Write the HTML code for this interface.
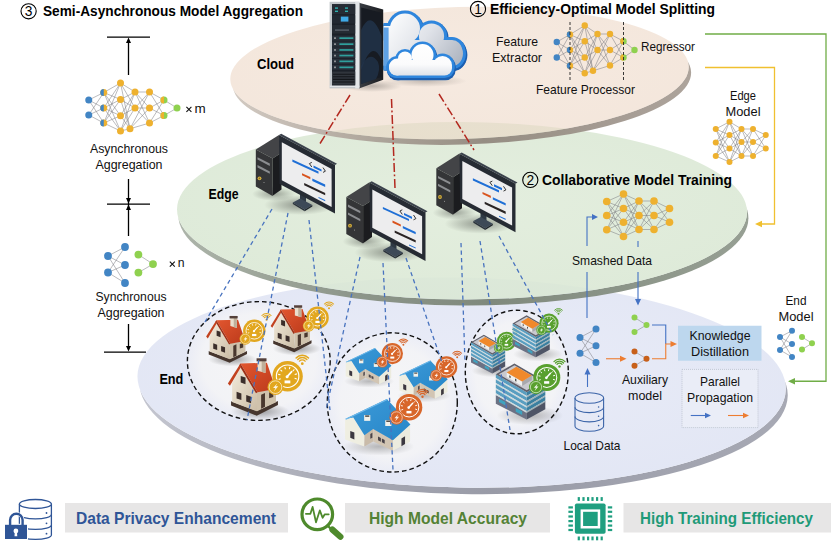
<!DOCTYPE html>
<html><head><meta charset="utf-8"><title>Framework</title>
<style>html,body{margin:0;padding:0;background:#fff;}svg{display:block;}text{font-family:"Liberation Sans", sans-serif;}</style></head><body>
<svg width="836" height="544" viewBox="0 0 836 544">
<defs>
<radialGradient id="gCloud" cx="50%" cy="45%" r="60%"><stop offset="0" stop-color="#f0dccc"/><stop offset="1" stop-color="#ecd6c4"/></radialGradient>
<radialGradient id="gEdge" cx="50%" cy="45%" r="60%"><stop offset="0" stop-color="#e0ecda"/><stop offset="1" stop-color="#d9e7d3"/></radialGradient>
<radialGradient id="gEnd" cx="50%" cy="45%" r="60%"><stop offset="0" stop-color="#e9ecf8"/><stop offset="1" stop-color="#e2e6f4"/></radialGradient>
<radialGradient id="gSpot" cx="50%" cy="50%" r="50%"><stop offset="0" stop-color="#f6f6f7" stop-opacity="0.95"/><stop offset="0.8" stop-color="#f4f4f6" stop-opacity="0.9"/><stop offset="1" stop-color="#f2f2f6" stop-opacity="0.45"/></radialGradient>
<radialGradient id="gShadow" cx="50%" cy="50%" r="50%"><stop offset="0" stop-color="#000" stop-opacity="0.45"/><stop offset="1" stop-color="#000" stop-opacity="0"/></radialGradient>
<filter id="blur2" x="-30%" y="-30%" width="160%" height="160%"><feGaussianBlur stdDeviation="2.5"/></filter>
<filter id="blur1" x="-30%" y="-30%" width="160%" height="160%"><feGaussianBlur stdDeviation="1.2"/></filter>
<linearGradient id="gWallF" x1="0" y1="0" x2="1" y2="1"><stop offset="0" stop-color="#f3ebdc"/><stop offset="1" stop-color="#cbbda6"/></linearGradient>
<linearGradient id="gRoofR" x1="0" y1="0" x2="1" y2="1"><stop offset="0" stop-color="#e2562f"/><stop offset="1" stop-color="#bb3a1b"/></linearGradient>
<linearGradient id="gRoofB" x1="0" y1="0" x2="1" y2="1"><stop offset="0" stop-color="#3d9ad8"/><stop offset="1" stop-color="#2686c8"/></linearGradient>
<linearGradient id="gSrvSide" x1="0" y1="0" x2="1" y2="0"><stop offset="0" stop-color="#3a3e44"/><stop offset="1" stop-color="#1a1c20"/></linearGradient>
<linearGradient id="gCloudIn" gradientUnits="userSpaceOnUse" x1="392" y1="18" x2="462" y2="68"><stop offset="0" stop-color="#fafbfc"/><stop offset="0.45" stop-color="#dfe2e8"/><stop offset="1" stop-color="#a9b0bc"/></linearGradient>
<linearGradient id="gCloudFr" gradientUnits="userSpaceOnUse" x1="0" y1="44" x2="0" y2="78"><stop offset="0" stop-color="#ffffff"/><stop offset="0.6" stop-color="#fbfbfc"/><stop offset="1" stop-color="#d9dde5"/></linearGradient>
<linearGradient id="sEdge" gradientUnits="userSpaceOnUse" x1="177" y1="0" x2="747" y2="0"><stop offset="0" stop-color="#aab2a7"/><stop offset="0.3" stop-color="#8a9387"/><stop offset="0.55" stop-color="#7b8578"/><stop offset="1" stop-color="#939c90"/></linearGradient>
<linearGradient id="sCloud" gradientUnits="userSpaceOnUse" x1="231" y1="0" x2="688" y2="0"><stop offset="0" stop-color="#cfc6bd"/><stop offset="0.3" stop-color="#aaa097"/><stop offset="0.55" stop-color="#8f857c"/><stop offset="1" stop-color="#a69c93"/></linearGradient>
<linearGradient id="sEnd" gradientUnits="userSpaceOnUse" x1="138" y1="0" x2="787" y2="0"><stop offset="0" stop-color="#c4c6d0"/><stop offset="0.3" stop-color="#a9abb6"/><stop offset="0.55" stop-color="#999ba7"/><stop offset="1" stop-color="#a7a9b4"/></linearGradient>
</defs>
<rect width="836" height="544" fill="#fff"/>
<mask id="mkEnd" maskUnits="userSpaceOnUse" x="0" y="0" width="836" height="544"><rect width="836" height="544" fill="#fff"/><ellipse cx="461.6" cy="382.6" rx="324.2" ry="105" transform="rotate(1.2 461.6 382.6)" fill="#000"/></mask>
<g mask="url(#mkEnd)"><ellipse cx="463.6" cy="389.0" rx="324.2" ry="105" transform="rotate(1.2 463.6 389.0)" fill="url(#sEnd)" opacity="1.0"/></g>
<ellipse cx="461.6" cy="382.6" rx="324.2" ry="105" transform="rotate(1.2 461.6 382.6)" fill="url(#gEnd)" fill-opacity="1.0"/>
<ellipse cx="258.8" cy="361" rx="71.4" ry="59.4" fill="url(#gSpot)"/>
<ellipse cx="258.8" cy="361" rx="71.4" ry="59.4" fill="none" stroke="#111" stroke-width="1.4" stroke-dasharray="4.6 3"/>
<ellipse cx="392.3" cy="402.4" rx="65" ry="69.6" fill="url(#gSpot)"/>
<ellipse cx="392.3" cy="402.4" rx="65" ry="69.6" fill="none" stroke="#111" stroke-width="1.4" stroke-dasharray="4.6 3"/>
<ellipse cx="516.8" cy="372" rx="51.5" ry="61.8" fill="url(#gSpot)"/>
<ellipse cx="516.8" cy="372" rx="51.5" ry="61.8" fill="none" stroke="#111" stroke-width="1.4" stroke-dasharray="4.6 3"/>
<ellipse cx="232.38206896551725" cy="359.34896551724137" rx="24.228275862068966" ry="6.986758620689655" fill="url(#gShadow)" opacity="0.8"/>
<polygon points="208.72,351.12 229.68,359.01 247.03,350.9 247.03,354.05 229.68,362.84 208.72,354.5" fill="#46362e" />
<polygon points="209.62,336.25 216.61,323.4 229.9,343.01 229.9,359.24 209.62,351.57" fill="url(#gWallF)" />
<polygon points="229.9,343.01 245.45,341.21 245.45,351.8 229.9,359.24" fill="#cfc2ac" />
<polygon points="216.61,330.39 220.55,331.74 220.55,337.15 216.61,335.8" fill="#3b2e2b" />
<polygon points="213.22,343.35 217.17,344.7 217.17,350.11 213.22,348.76" fill="#3b2e2b" />
<polygon points="221.11,345.94 225.06,347.29 225.06,352.7 221.11,351.35" fill="#3b2e2b" />
<polygon points="233.28,345.71 236.44,344.36 236.44,355.63 233.28,357.21" fill="#4a382e" />
<polygon points="239.82,343.91 243.2,343.01 243.2,347.52 239.82,348.53" fill="#4a382e" />
<polygon points="216.38,320.25 238.02,319.68 245.23,341.09 230.35,343.8" fill="url(#gRoofR)" />
<polygon points="216.38,320.25 230.35,343.8 229.11,344.59 215.48,321.82" fill="#9c2e15" />
<polygon points="216.38,320.25 206.13,336.59 207.82,338.39 216.61,323.51" fill="#c2421f" />
<polygon points="230.35,317.99 236.89,317.99 236.89,327.91 230.35,326.11" fill="#eadfcd" />
<polygon points="233.73,317.99 236.89,317.99 236.89,327.91 233.73,327.01" fill="#bfb09a" />
<polygon points="229.56,315.96 237.68,315.96 237.68,318.44 229.56,318.44" fill="#54403a" />
<g>
<circle cx="254.3" cy="330.8" r="11.2" fill="#e2a71f"/>
<circle cx="254.3" cy="330.8" r="8.29" fill="none" stroke="#fff" stroke-width="0.84"/>
<path d="M249.25 332.64L247.67 333.21M249.02 329.77L247.37 329.45M250.30 327.20L249.06 326.08M252.73 325.66L252.24 324.05M255.60 325.58L256.01 323.95M258.10 327.00L259.29 325.81M259.52 329.50L261.15 329.09M259.44 332.37L261.05 332.86" stroke="#fff" stroke-width="0.78" fill="none"/>
<path d="M253.96 331.14L257.32 327.44" stroke="#fff" stroke-width="1.23" stroke-linecap="round"/>
<circle cx="253.96" cy="331.14" r="1.12" fill="#fff"/>
<rect x="252.06" y="333.94" width="4.26" height="2.13" fill="#fff"/>
<circle cx="245.34" cy="338.86" r="5.82" fill="#e2a71f"/>
<circle cx="245.34" cy="338.86" r="4.66" fill="none" stroke="#fff" stroke-width="0.56" opacity="0.85"/>
<path d="M246.80 335.95L243.59 339.45H245.34L244.18 342.07L247.38 338.28H245.63Z" fill="#fff" opacity="0.9"/>
<circle cx="266.5" cy="319.636" r="1.01" fill="#e2a71f"/>
<path d="M264.42 317.76A2.80 2.80 0 0 1 268.58 317.76" stroke="#e2a71f" stroke-width="1.06" fill="none" stroke-linecap="round"/>
<path d="M263.17 316.64A4.48 4.48 0 0 1 269.83 316.64" stroke="#e2a71f" stroke-width="1.06" fill="none" stroke-linecap="round"/>
<path d="M261.92 315.51A6.16 6.16 0 0 1 271.08 315.51" stroke="#e2a71f" stroke-width="1.06" fill="none" stroke-linecap="round"/>
</g>
<ellipse cx="296.8820689655172" cy="348.6489655172414" rx="24.228275862068966" ry="6.986758620689655" fill="url(#gShadow)" opacity="0.8"/>
<polygon points="273.22,340.42 294.18,348.31 311.53,340.2 311.53,343.35 294.18,352.14 273.22,343.8" fill="#46362e" />
<polygon points="274.12,325.55 281.11,312.7 294.4,332.31 294.4,348.54 274.12,340.87" fill="url(#gWallF)" />
<polygon points="294.4,332.31 309.95,330.51 309.95,341.1 294.4,348.54" fill="#cfc2ac" />
<polygon points="281.11,319.69 285.05,321.04 285.05,326.45 281.11,325.1" fill="#3b2e2b" />
<polygon points="277.72,332.65 281.67,334.0 281.67,339.41 277.72,338.06" fill="#3b2e2b" />
<polygon points="285.61,335.24 289.56,336.59 289.56,342.0 285.61,340.65" fill="#3b2e2b" />
<polygon points="297.78,335.01 300.94,333.66 300.94,344.93 297.78,346.51" fill="#4a382e" />
<polygon points="304.32,333.21 307.7,332.31 307.7,336.82 304.32,337.83" fill="#4a382e" />
<polygon points="280.88,309.55 302.52,308.98 309.73,330.39 294.85,333.1" fill="url(#gRoofR)" />
<polygon points="280.88,309.55 294.85,333.1 293.61,333.89 279.98,311.12" fill="#9c2e15" />
<polygon points="280.88,309.55 270.63,325.89 272.32,327.69 281.11,312.81" fill="#c2421f" />
<polygon points="294.85,307.29 301.39,307.29 301.39,317.21 294.85,315.41" fill="#eadfcd" />
<polygon points="298.23,307.29 301.39,307.29 301.39,317.21 298.23,316.31" fill="#bfb09a" />
<polygon points="294.06,305.26 302.18,305.26 302.18,307.74 294.06,307.74" fill="#54403a" />
<g>
<circle cx="317.6" cy="317.7" r="11.2" fill="#e2a71f"/>
<circle cx="317.6" cy="317.7" r="8.29" fill="none" stroke="#fff" stroke-width="0.84"/>
<path d="M312.55 319.54L310.97 320.11M312.32 316.67L310.67 316.35M313.60 314.10L312.36 312.98M316.03 312.56L315.54 310.95M318.90 312.48L319.31 310.85M321.40 313.90L322.59 312.71M322.82 316.40L324.45 315.99M322.74 319.27L324.35 319.76" stroke="#fff" stroke-width="0.78" fill="none"/>
<path d="M317.26 318.04L320.62 314.34" stroke="#fff" stroke-width="1.23" stroke-linecap="round"/>
<circle cx="317.26" cy="318.04" r="1.12" fill="#fff"/>
<rect x="315.36" y="320.84" width="4.26" height="2.13" fill="#fff"/>
<circle cx="308.64" cy="325.76" r="5.82" fill="#e2a71f"/>
<circle cx="308.64" cy="325.76" r="4.66" fill="none" stroke="#fff" stroke-width="0.56" opacity="0.85"/>
<path d="M310.10 322.85L306.89 326.35H308.64L307.48 328.97L310.68 325.18H308.93Z" fill="#fff" opacity="0.9"/>
<circle cx="329" cy="308.136" r="1.01" fill="#e2a71f"/>
<path d="M326.92 306.26A2.80 2.80 0 0 1 331.08 306.26" stroke="#e2a71f" stroke-width="1.06" fill="none" stroke-linecap="round"/>
<path d="M325.67 305.14A4.48 4.48 0 0 1 332.33 305.14" stroke="#e2a71f" stroke-width="1.06" fill="none" stroke-linecap="round"/>
<path d="M324.42 304.01A6.16 6.16 0 0 1 333.58 304.01" stroke="#e2a71f" stroke-width="1.06" fill="none" stroke-linecap="round"/>
</g>
<ellipse cx="260.0137931034483" cy="411.3931034482759" rx="29.655172413793103" ry="8.551724137931034" fill="url(#gShadow)" opacity="0.8"/>
<polygon points="231.05,401.32 256.7,410.98 277.94,401.05 277.94,404.91 256.7,415.67 231.05,405.46" fill="#46362e" />
<polygon points="232.15,383.12 240.7,367.39 256.98,391.39 256.98,411.26 232.15,401.88" fill="url(#gWallF)" />
<polygon points="256.98,391.39 276.01,389.19 276.01,402.15 256.98,411.26" fill="#cfc2ac" />
<polygon points="240.7,375.94 245.53,377.6 245.53,384.22 240.7,382.57" fill="#3b2e2b" />
<polygon points="236.57,391.81 241.39,393.46 241.39,400.08 236.57,398.43" fill="#3b2e2b" />
<polygon points="246.22,394.98 251.05,396.63 251.05,403.26 246.22,401.6" fill="#3b2e2b" />
<polygon points="261.12,394.7 264.98,393.05 264.98,406.84 261.12,408.77" fill="#4a382e" />
<polygon points="269.12,392.5 273.26,391.39 273.26,396.91 269.12,398.15" fill="#4a382e" />
<polygon points="240.43,363.53 266.91,362.84 275.74,389.05 257.53,392.36" fill="url(#gRoofR)" />
<polygon points="240.43,363.53 257.53,392.36 256.01,393.32 239.32,365.46" fill="#9c2e15" />
<polygon points="240.43,363.53 227.88,383.53 229.94,385.74 240.7,367.53" fill="#c2421f" />
<polygon points="257.53,360.77 265.53,360.77 265.53,372.91 257.53,370.7" fill="#eadfcd" />
<polygon points="261.67,360.77 265.53,360.77 265.53,372.91 261.67,371.81" fill="#bfb09a" />
<polygon points="256.57,358.29 266.5,358.29 266.5,361.32 256.57,361.32" fill="#54403a" />
<g>
<circle cx="287.6" cy="376.2" r="15.2" fill="#e2a71f"/>
<circle cx="287.6" cy="376.2" r="11.25" fill="none" stroke="#fff" stroke-width="1.14"/>
<path d="M280.74 378.70L278.60 379.48M280.44 374.81L278.20 374.37M282.18 371.32L280.48 369.79M285.47 369.22L284.80 367.04M289.37 369.12L289.92 366.91M292.76 371.04L294.37 369.43M294.68 374.43L296.89 373.88M294.58 378.33L296.76 379.00" stroke="#fff" stroke-width="1.06" fill="none"/>
<path d="M287.14 376.66L291.70 371.64" stroke="#fff" stroke-width="1.67" stroke-linecap="round"/>
<circle cx="287.14" cy="376.66" r="1.52" fill="#fff"/>
<rect x="284.56" y="380.46" width="5.78" height="2.89" fill="#fff"/>
<circle cx="275.44" cy="387.14" r="7.90" fill="#e2a71f"/>
<circle cx="275.44" cy="387.14" r="6.32" fill="none" stroke="#fff" stroke-width="0.76" opacity="0.85"/>
<path d="M277.42 383.19L273.07 387.93H275.44L273.86 391.49L278.21 386.35H275.84Z" fill="#fff" opacity="0.9"/>
<circle cx="302.3" cy="363.65599999999995" r="1.37" fill="#e2a71f"/>
<path d="M299.48 361.11A3.80 3.80 0 0 1 305.12 361.11" stroke="#e2a71f" stroke-width="1.44" fill="none" stroke-linecap="round"/>
<path d="M297.78 359.59A6.08 6.08 0 0 1 306.82 359.59" stroke="#e2a71f" stroke-width="1.44" fill="none" stroke-linecap="round"/>
<path d="M296.09 358.06A8.36 8.36 0 0 1 308.51 358.06" stroke="#e2a71f" stroke-width="1.44" fill="none" stroke-linecap="round"/>
</g>
<ellipse cx="369.10836012861733" cy="381.3118971061093" rx="25.20900321543408" ry="6.30225080385852" fill="url(#gShadow)" opacity="0.55"/>
<polygon points="345.7,362.59 351.55,360.87 359.2,372.94 359.2,381.31 345.7,376.36" fill="#efeee1" />
<polygon points="359.2,372.94 365.33,368.71 365.33,377.71 359.2,381.31" fill="#c9bba9" />
<polygon points="365.33,368.71 379.19,376.36 379.19,384.19 365.33,377.71" fill="#d2c5b3" />
<polygon points="379.19,376.36 391.17,365.83 391.17,377.89 379.19,384.19" fill="#ecebde" />
<polygon points="345.7,362.05 374.96,348.0 391.44,365.83 379.19,376.81 365.33,368.98 359.2,373.3 351.46,360.96" fill="url(#gRoofB)" />
<polygon points="345.7,362.05 374.96,348.0 375.41,348.72 346.42,362.59" fill="#6fb9ea" />
<polygon points="359.02,359.25 363.35,359.25 363.35,363.31 359.02,363.31" fill="#f2f1ea" />
<polygon points="359.75,359.43 362.63,359.43 362.63,360.51 359.75,360.51" fill="#55504c" />
<polygon points="373.79,362.86 378.11,362.86 378.11,366.91 373.79,366.91" fill="#f2f1ea" />
<polygon points="374.51,363.04 377.39,363.04 377.39,364.12 374.51,364.12" fill="#55504c" />
<polygon points="349.3,370.33 352.18,371.41 352.18,376.36 349.3,375.19" fill="#3c3840" />
<polygon points="363.35,372.49 364.79,371.68 364.79,375.19 363.35,375.91" fill="#4a444a" />
<polygon points="368.75,374.29 370.73,375.28 370.73,377.89 368.75,376.9" fill="#4a444a" />
<polygon points="371.45,375.73 373.43,376.72 373.43,379.33 371.45,378.34" fill="#4a444a" />
<polygon points="385.13,375.73 387.65,374.11 387.65,379.51 385.13,381.13" fill="#3c3840" />
<g>
<circle cx="392.4" cy="353.6" r="10.6" fill="#d8662a"/>
<circle cx="392.4" cy="353.6" r="7.84" fill="none" stroke="#fff" stroke-width="0.79"/>
<path d="M387.62 355.34L386.12 355.88M387.41 352.63L385.84 352.33M388.62 350.20L387.44 349.13M390.91 348.73L390.45 347.21M393.63 348.66L394.02 347.12M396.00 350.00L397.12 348.88M397.34 352.37L398.88 351.98M397.27 355.09L398.79 355.55" stroke="#fff" stroke-width="0.74" fill="none"/>
<path d="M392.08 353.92L395.26 350.42" stroke="#fff" stroke-width="1.17" stroke-linecap="round"/>
<circle cx="392.08" cy="353.92" r="1.06" fill="#fff"/>
<rect x="390.28" y="356.57" width="4.03" height="2.01" fill="#fff"/>
<circle cx="382.33" cy="361.87" r="5.72" fill="#d8662a"/>
<circle cx="382.33" cy="361.87" r="4.58" fill="none" stroke="#fff" stroke-width="0.53" opacity="0.85"/>
<path d="M383.76 359.01L380.61 362.44H382.33L381.19 365.02L384.33 361.30H382.62Z" fill="#fff" opacity="0.9"/>
<circle cx="403.4" cy="344.76800000000003" r="1.00" fill="#d8662a"/>
<path d="M401.43 342.99A2.65 2.65 0 0 1 405.37 342.99" stroke="#d8662a" stroke-width="1.01" fill="none" stroke-linecap="round"/>
<path d="M400.25 341.93A4.24 4.24 0 0 1 406.55 341.93" stroke="#d8662a" stroke-width="1.01" fill="none" stroke-linecap="round"/>
<path d="M399.07 340.87A5.83 5.83 0 0 1 407.73 340.87" stroke="#d8662a" stroke-width="1.01" fill="none" stroke-linecap="round"/>
</g>
<ellipse cx="424.1459807073955" cy="395.7154340836013" rx="26.64951768488746" ry="6.662379421221865" fill="url(#gShadow)" opacity="0.55"/>
<polygon points="399.4,375.92 405.59,374.11 413.68,386.86 413.68,395.72 399.4,390.48" fill="#efeee1" />
<polygon points="413.68,386.86 420.15,382.39 420.15,391.91 413.68,395.72" fill="#c9bba9" />
<polygon points="420.15,382.39 434.81,390.48 434.81,398.76 420.15,391.91" fill="#d2c5b3" />
<polygon points="434.81,390.48 447.46,379.35 447.46,392.1 434.81,398.76" fill="#ecebde" />
<polygon points="399.4,375.35 430.33,360.5 447.75,379.35 434.81,390.96 420.15,382.68 413.68,387.24 405.49,374.21" fill="url(#gRoofB)" />
<polygon points="399.4,375.35 430.33,360.5 430.81,361.26 400.16,375.92" fill="#6fb9ea" />
<polygon points="413.49,372.4 418.05,372.4 418.05,376.68 413.49,376.68" fill="#f2f1ea" />
<polygon points="414.25,372.59 417.29,372.59 417.29,373.73 414.25,373.73" fill="#55504c" />
<polygon points="429.1,376.2 433.66,376.2 433.66,380.49 429.1,380.49" fill="#f2f1ea" />
<polygon points="429.86,376.39 432.9,376.39 432.9,377.54 429.86,377.54" fill="#55504c" />
<polygon points="403.21,384.1 406.25,385.25 406.25,390.48 403.21,389.24" fill="#3c3840" />
<polygon points="418.05,386.39 419.58,385.53 419.58,389.24 418.05,390.0" fill="#4a444a" />
<polygon points="423.77,388.29 425.86,389.34 425.86,392.1 423.77,391.05" fill="#4a444a" />
<polygon points="426.62,389.81 428.71,390.86 428.71,393.62 426.62,392.57" fill="#4a444a" />
<polygon points="441.09,389.81 443.75,388.1 443.75,393.81 441.09,395.53" fill="#3c3840" />
<g>
<circle cx="446.5" cy="367" r="10.8" fill="#d8662a"/>
<circle cx="446.5" cy="367" r="7.99" fill="none" stroke="#fff" stroke-width="0.81"/>
<path d="M441.63 368.77L440.11 369.33M441.41 366.01L439.82 365.70M442.65 363.53L441.44 362.45M444.98 362.04L444.51 360.49M447.75 361.97L448.15 360.40M450.17 363.33L451.31 362.19M451.53 365.75L453.10 365.35M451.46 368.52L453.01 368.99" stroke="#fff" stroke-width="0.76" fill="none"/>
<path d="M446.18 367.32L449.42 363.76" stroke="#fff" stroke-width="1.19" stroke-linecap="round"/>
<circle cx="446.18" cy="367.32" r="1.08" fill="#fff"/>
<rect x="444.34" y="370.02" width="4.10" height="2.05" fill="#fff"/>
<circle cx="436.24" cy="375.42" r="5.83" fill="#d8662a"/>
<circle cx="436.24" cy="375.42" r="4.67" fill="none" stroke="#fff" stroke-width="0.54" opacity="0.85"/>
<path d="M437.70 372.51L434.49 376.01H436.24L435.07 378.63L438.28 374.84H436.53Z" fill="#fff" opacity="0.9"/>
<circle cx="457.2" cy="357.224" r="1.00" fill="#d8662a"/>
<path d="M455.19 355.42A2.70 2.70 0 0 1 459.21 355.42" stroke="#d8662a" stroke-width="1.03" fill="none" stroke-linecap="round"/>
<path d="M453.99 354.33A4.32 4.32 0 0 1 460.41 354.33" stroke="#d8662a" stroke-width="1.03" fill="none" stroke-linecap="round"/>
<path d="M452.79 353.25A5.94 5.94 0 0 1 461.61 353.25" stroke="#d8662a" stroke-width="1.03" fill="none" stroke-linecap="round"/>
</g>
<ellipse cx="378.5405144694534" cy="446.588424437299" rx="36.0128617363344" ry="9.0032154340836" fill="url(#gShadow)" opacity="0.55"/>
<polygon points="345.1,419.84 353.46,417.39 364.39,434.63 364.39,446.59 345.1,439.51" fill="#efeee1" />
<polygon points="364.39,434.63 373.14,428.58 373.14,441.44 364.39,446.59" fill="#c9bba9" />
<polygon points="373.14,428.58 392.95,439.51 392.95,450.7 373.14,441.44" fill="#d2c5b3" />
<polygon points="392.95,439.51 410.05,424.47 410.05,441.7 392.95,450.7" fill="#ecebde" />
<polygon points="345.1,419.06 386.9,399.0 410.44,424.47 392.95,440.16 373.14,428.97 364.39,435.14 353.33,417.52" fill="url(#gRoofB)" />
<polygon points="345.1,419.06 386.9,399.0 387.54,400.03 346.13,419.84" fill="#6fb9ea" />
<polygon points="364.14,415.08 370.31,415.08 370.31,420.86 364.14,420.86" fill="#f2f1ea" />
<polygon points="365.16,415.33 369.28,415.33 369.28,416.88 365.16,416.88" fill="#55504c" />
<polygon points="385.23,420.22 391.4,420.22 391.4,426.01 385.23,426.01" fill="#f2f1ea" />
<polygon points="386.26,420.48 390.37,420.48 390.37,422.02 386.26,422.02" fill="#55504c" />
<polygon points="350.24,430.9 354.36,432.44 354.36,439.51 350.24,437.84" fill="#3c3840" />
<polygon points="370.31,433.98 372.37,432.83 372.37,437.84 370.31,438.87" fill="#4a444a" />
<polygon points="378.03,436.56 380.86,437.97 380.86,441.7 378.03,440.29" fill="#4a444a" />
<polygon points="381.88,438.61 384.71,440.03 384.71,443.76 381.88,442.34" fill="#4a444a" />
<polygon points="401.43,438.61 405.04,436.3 405.04,444.02 401.43,446.33" fill="#3c3840" />
<g>
<circle cx="409.1" cy="407.2" r="13.2" fill="#d8662a"/>
<circle cx="409.1" cy="407.2" r="9.77" fill="none" stroke="#fff" stroke-width="0.99"/>
<path d="M403.15 409.37L401.29 410.04M402.88 405.99L400.94 405.61M404.39 402.96L402.92 401.64M407.25 401.14L406.67 399.25M410.63 401.05L411.11 399.13M413.58 402.72L414.98 401.32M415.25 405.67L417.17 405.19M415.16 409.05L417.05 409.63" stroke="#fff" stroke-width="0.92" fill="none"/>
<path d="M408.70 407.60L412.66 403.24" stroke="#fff" stroke-width="1.45" stroke-linecap="round"/>
<circle cx="408.70" cy="407.60" r="1.32" fill="#fff"/>
<rect x="406.46" y="410.90" width="5.02" height="2.51" fill="#fff"/>
<circle cx="396.56" cy="417.50" r="7.13" fill="#d8662a"/>
<circle cx="396.56" cy="417.50" r="5.70" fill="none" stroke="#fff" stroke-width="0.66" opacity="0.85"/>
<path d="M398.34 413.93L394.42 418.21H396.56L395.13 421.42L399.05 416.78H396.92Z" fill="#fff" opacity="0.9"/>
<circle cx="422.5" cy="396.696" r="1.19" fill="#d8662a"/>
<path d="M420.05 394.49A3.30 3.30 0 0 1 424.95 394.49" stroke="#d8662a" stroke-width="1.25" fill="none" stroke-linecap="round"/>
<path d="M418.58 393.16A5.28 5.28 0 0 1 426.42 393.16" stroke="#d8662a" stroke-width="1.25" fill="none" stroke-linecap="round"/>
<path d="M417.10 391.84A7.26 7.26 0 0 1 427.90 391.84" stroke="#d8662a" stroke-width="1.25" fill="none" stroke-linecap="round"/>
</g>
<ellipse cx="494.5176848874598" cy="370.64212218649516" rx="23.073954983922828" ry="6.655948553054662" fill="url(#gShadow)" opacity="0.6"/>
<polygon points="471.0,356.44 492.3,367.98 492.3,373.48 471.0,362.48" fill="#6c7284" />
<polygon points="492.3,367.98 505.17,360.88 505.17,366.38 492.3,373.48" fill="#4f5566" />
<polygon points="473.22,359.11 477.66,361.41 477.66,363.72 473.22,361.41" fill="#3fa3c0" />
<polygon points="484.76,365.49 489.19,367.8 489.19,370.29 484.76,367.98" fill="#3fa3c0" />
<polygon points="471.0,342.24 492.3,354.67 492.3,357.15 471.0,344.73" fill="#5a9ec0" />
<polygon points="492.3,354.67 505.17,347.12 505.17,349.61 492.3,357.15" fill="#3b7f9f" />
<polygon points="471.0,344.73 492.3,357.15 492.3,358.22 471.0,345.79" fill="#cfdadd" />
<polygon points="492.3,357.15 505.17,349.61 505.17,350.67 492.3,358.22" fill="#9fb0b6" />
<polygon points="471.0,345.79 492.3,358.22 492.3,360.7 471.0,348.28" fill="#5a9ec0" />
<polygon points="492.3,358.22 505.17,350.67 505.17,353.16 492.3,360.7" fill="#3b7f9f" />
<polygon points="471.0,348.28 492.3,360.7 492.3,361.77 471.0,349.34" fill="#cfdadd" />
<polygon points="492.3,360.7 505.17,353.16 505.17,354.22 492.3,361.77" fill="#9fb0b6" />
<polygon points="471.0,349.34 492.3,361.77 492.3,364.25 471.0,351.83" fill="#5a9ec0" />
<polygon points="492.3,361.77 505.17,354.22 505.17,356.71 492.3,364.25" fill="#3b7f9f" />
<polygon points="471.0,351.83 492.3,364.25 492.3,365.32 471.0,352.89" fill="#cfdadd" />
<polygon points="492.3,364.25 505.17,356.71 505.17,357.77 492.3,365.32" fill="#9fb0b6" />
<polygon points="471.0,352.89 492.3,365.32 492.3,367.8 471.0,355.38" fill="#5a9ec0" />
<polygon points="492.3,365.32 505.17,357.77 505.17,360.26 492.3,367.8" fill="#3b7f9f" />
<polygon points="471.0,355.38 492.3,367.8 492.3,368.87 471.0,356.44" fill="#cfdadd" />
<polygon points="492.3,367.8 505.17,360.26 505.17,361.32 492.3,368.87" fill="#9fb0b6" />
<polygon points="471.0,342.24 483.87,334.7 505.17,347.12 492.3,354.67" fill="#5f5f6a" />
<polygon points="473.04,342.24 483.87,336.03 502.95,347.12 492.3,353.25" fill="#c9c9cf" />
<polygon points="478.54,340.91 489.19,347.12 489.19,350.23 478.54,344.02" fill="#f0f0ee" />
<polygon points="489.19,347.12 495.85,343.13 495.85,346.24 489.19,350.23" fill="#a9a9ad" />
<polygon points="478.54,340.91 485.2,337.1 495.85,343.13 489.19,347.12" fill="#f0892b" />
<polygon points="480.32,342.84 481.21,343.37 481.21,344.96 480.32,344.43" fill="#444" />
<polygon points="484.31,345.16 485.2,345.7 485.2,347.29 484.31,346.76" fill="#444" />
<g>
<circle cx="506.5" cy="341.2" r="9.5" fill="#58a02e"/>
<circle cx="506.5" cy="341.2" r="7.03" fill="none" stroke="#fff" stroke-width="0.71"/>
<path d="M502.22 342.76L500.88 343.25M502.02 340.33L500.62 340.06M503.11 338.15L502.05 337.20M505.17 336.84L504.75 335.48M507.60 336.78L507.95 335.39M509.72 337.98L510.73 336.97M510.92 340.10L512.31 339.75M510.86 342.53L512.22 342.95" stroke="#fff" stroke-width="0.67" fill="none"/>
<path d="M506.21 341.49L509.06 338.35" stroke="#fff" stroke-width="1.04" stroke-linecap="round"/>
<circle cx="506.21" cy="341.49" r="0.95" fill="#fff"/>
<rect x="504.60" y="343.86" width="3.61" height="1.80" fill="#fff"/>
<circle cx="498.90" cy="348.04" r="4.94" fill="#58a02e"/>
<circle cx="498.90" cy="348.04" r="3.95" fill="none" stroke="#fff" stroke-width="0.50" opacity="0.85"/>
<path d="M500.13 345.57L497.42 348.53H498.90L497.91 350.76L500.63 347.55H499.15Z" fill="#fff" opacity="0.9"/>
<circle cx="516.3" cy="333.06" r="1.00" fill="#58a02e"/>
<path d="M514.54 331.47A2.38 2.38 0 0 1 518.06 331.47" stroke="#58a02e" stroke-width="0.90" fill="none" stroke-linecap="round"/>
<path d="M513.48 330.52A3.80 3.80 0 0 1 519.12 330.52" stroke="#58a02e" stroke-width="0.90" fill="none" stroke-linecap="round"/>
<path d="M512.42 329.56A5.23 5.23 0 0 1 520.18 329.56" stroke="#58a02e" stroke-width="0.90" fill="none" stroke-linecap="round"/>
</g>
<ellipse cx="538.1627009646303" cy="354.26752411575563" rx="25.080385852090032" ry="7.234726688102893" fill="url(#gShadow)" opacity="0.6"/>
<polygon points="512.6,338.83 535.75,351.37 535.75,357.35 512.6,345.39" fill="#6c7284" />
<polygon points="535.75,351.37 549.74,343.66 549.74,349.64 535.75,357.35" fill="#4f5566" />
<polygon points="515.01,341.73 519.83,344.24 519.83,346.74 515.01,344.24" fill="#3fa3c0" />
<polygon points="527.55,348.67 532.37,351.18 532.37,353.88 527.55,351.37" fill="#3fa3c0" />
<polygon points="512.6,323.4 535.75,336.9 535.75,339.61 512.6,326.1" fill="#5a9ec0" />
<polygon points="535.75,336.9 549.74,328.7 549.74,331.41 535.75,339.61" fill="#3b7f9f" />
<polygon points="512.6,326.1 535.75,339.61 535.75,340.76 512.6,327.26" fill="#cfdadd" />
<polygon points="535.75,339.61 549.74,331.41 549.74,332.56 535.75,340.76" fill="#9fb0b6" />
<polygon points="512.6,327.26 535.75,340.76 535.75,343.46 512.6,329.96" fill="#5a9ec0" />
<polygon points="535.75,340.76 549.74,332.56 549.74,335.26 535.75,343.46" fill="#3b7f9f" />
<polygon points="512.6,329.96 535.75,343.46 535.75,344.62 512.6,331.12" fill="#cfdadd" />
<polygon points="535.75,343.46 549.74,335.26 549.74,336.42 535.75,344.62" fill="#9fb0b6" />
<polygon points="512.6,331.12 535.75,344.62 535.75,347.32 512.6,333.82" fill="#5a9ec0" />
<polygon points="535.75,344.62 549.74,336.42 549.74,339.12 535.75,347.32" fill="#3b7f9f" />
<polygon points="512.6,333.82 535.75,347.32 535.75,348.48 512.6,334.97" fill="#cfdadd" />
<polygon points="535.75,347.32 549.74,339.12 549.74,340.28 535.75,348.48" fill="#9fb0b6" />
<polygon points="512.6,334.97 535.75,348.48 535.75,351.18 512.6,337.68" fill="#5a9ec0" />
<polygon points="535.75,348.48 549.74,340.28 549.74,342.98 535.75,351.18" fill="#3b7f9f" />
<polygon points="512.6,337.68 535.75,351.18 535.75,352.34 512.6,338.83" fill="#cfdadd" />
<polygon points="535.75,351.18 549.74,342.98 549.74,344.14 535.75,352.34" fill="#9fb0b6" />
<polygon points="512.6,323.4 526.59,315.2 549.74,328.7 535.75,336.9" fill="#5f5f6a" />
<polygon points="514.82,323.4 526.59,316.65 547.33,328.7 535.75,335.36" fill="#c9c9cf" />
<polygon points="520.8,321.95 532.37,328.7 532.37,332.08 520.8,325.33" fill="#f0f0ee" />
<polygon points="532.37,328.7 539.61,324.36 539.61,327.74 532.37,332.08" fill="#a9a9ad" />
<polygon points="520.8,321.95 528.03,317.8 539.61,324.36 532.37,328.7" fill="#f0892b" />
<polygon points="522.73,324.04 523.69,324.62 523.69,326.36 522.73,325.78" fill="#444" />
<polygon points="527.07,326.57 528.03,327.15 528.03,328.89 527.07,328.31" fill="#444" />
<g>
<circle cx="549" cy="323.2" r="9.6" fill="#58a02e"/>
<circle cx="549" cy="323.2" r="7.10" fill="none" stroke="#fff" stroke-width="0.72"/>
<path d="M544.67 324.78L543.32 325.27M544.48 322.32L543.06 322.05M545.58 320.12L544.51 319.15M547.65 318.79L547.23 317.42M550.11 318.73L550.46 317.33M552.26 319.94L553.28 318.92M553.47 322.09L554.87 321.74M553.41 324.55L554.78 324.97" stroke="#fff" stroke-width="0.67" fill="none"/>
<path d="M548.71 323.49L551.59 320.32" stroke="#fff" stroke-width="1.06" stroke-linecap="round"/>
<circle cx="548.71" cy="323.49" r="0.96" fill="#fff"/>
<rect x="547.08" y="325.89" width="3.65" height="1.82" fill="#fff"/>
<circle cx="541.32" cy="330.11" r="4.99" fill="#58a02e"/>
<circle cx="541.32" cy="330.11" r="3.99" fill="none" stroke="#fff" stroke-width="0.50" opacity="0.85"/>
<path d="M542.57 327.62L539.82 330.61H541.32L540.32 332.86L543.07 329.61H541.57Z" fill="#fff" opacity="0.9"/>
<circle cx="558.5" cy="313.688" r="1.00" fill="#58a02e"/>
<path d="M556.72 312.08A2.40 2.40 0 0 1 560.28 312.08" stroke="#58a02e" stroke-width="0.91" fill="none" stroke-linecap="round"/>
<path d="M555.65 311.12A3.84 3.84 0 0 1 561.35 311.12" stroke="#58a02e" stroke-width="0.91" fill="none" stroke-linecap="round"/>
<path d="M554.58 310.15A5.28 5.28 0 0 1 562.42 310.15" stroke="#58a02e" stroke-width="0.91" fill="none" stroke-linecap="round"/>
</g>
<ellipse cx="529.8836012861736" cy="415.49003215434084" rx="33.440514469453376" ry="9.646302250803858" fill="url(#gShadow)" opacity="0.6"/>
<polygon points="495.8,394.91 526.67,411.63 526.67,419.61 495.8,403.66" fill="#6c7284" />
<polygon points="526.67,411.63 545.32,401.34 545.32,409.32 526.67,419.61" fill="#4f5566" />
<polygon points="499.02,398.77 505.45,402.11 505.45,405.46 499.02,402.11" fill="#3fa3c0" />
<polygon points="515.74,408.03 522.17,411.37 522.17,414.98 515.74,411.63" fill="#3fa3c0" />
<polygon points="495.8,374.33 526.67,392.34 526.67,395.94 495.8,377.93" fill="#5a9ec0" />
<polygon points="526.67,392.34 545.32,381.41 545.32,385.01 526.67,395.94" fill="#3b7f9f" />
<polygon points="495.8,377.93 526.67,395.94 526.67,397.48 495.8,379.48" fill="#cfdadd" />
<polygon points="526.67,395.94 545.32,385.01 545.32,386.55 526.67,397.48" fill="#9fb0b6" />
<polygon points="495.8,379.48 526.67,397.48 526.67,401.08 495.8,383.08" fill="#5a9ec0" />
<polygon points="526.67,397.48 545.32,386.55 545.32,390.15 526.67,401.08" fill="#3b7f9f" />
<polygon points="495.8,383.08 526.67,401.08 526.67,402.63 495.8,384.62" fill="#cfdadd" />
<polygon points="526.67,401.08 545.32,390.15 545.32,391.7 526.67,402.63" fill="#9fb0b6" />
<polygon points="495.8,384.62 526.67,402.63 526.67,406.23 495.8,388.22" fill="#5a9ec0" />
<polygon points="526.67,402.63 545.32,391.7 545.32,395.3 526.67,406.23" fill="#3b7f9f" />
<polygon points="495.8,388.22 526.67,406.23 526.67,407.77 495.8,389.77" fill="#cfdadd" />
<polygon points="526.67,406.23 545.32,395.3 545.32,396.84 526.67,407.77" fill="#9fb0b6" />
<polygon points="495.8,389.77 526.67,407.77 526.67,411.37 495.8,393.37" fill="#5a9ec0" />
<polygon points="526.67,407.77 545.32,396.84 545.32,400.44 526.67,411.37" fill="#3b7f9f" />
<polygon points="495.8,393.37 526.67,411.37 526.67,412.92 495.8,394.91" fill="#cfdadd" />
<polygon points="526.67,411.37 545.32,400.44 545.32,401.99 526.67,412.92" fill="#9fb0b6" />
<polygon points="495.8,374.33 514.45,363.4 545.32,381.41 526.67,392.34" fill="#5f5f6a" />
<polygon points="498.76,374.33 514.45,365.33 542.1,381.41 526.67,390.28" fill="#c9c9cf" />
<polygon points="506.73,372.4 522.17,381.41 522.17,385.91 506.73,376.9" fill="#f0f0ee" />
<polygon points="522.17,381.41 531.81,375.62 531.81,380.12 522.17,385.91" fill="#a9a9ad" />
<polygon points="506.73,372.4 516.38,366.87 531.81,375.62 522.17,381.41" fill="#f0892b" />
<polygon points="509.3,375.19 510.59,375.96 510.59,378.28 509.3,377.51" fill="#444" />
<polygon points="515.09,378.57 516.38,379.34 516.38,381.65 515.09,380.88" fill="#444" />
<g>
<circle cx="546.8" cy="377.4" r="13.5" fill="#58a02e"/>
<circle cx="546.8" cy="377.4" r="9.99" fill="none" stroke="#fff" stroke-width="1.01"/>
<path d="M540.71 379.62L538.81 380.31M540.44 376.16L538.45 375.78M541.98 373.06L540.48 371.71M544.91 371.20L544.31 369.27M548.37 371.11L548.86 369.15M551.38 372.82L552.81 371.39M553.09 375.83L555.05 375.34M553.00 379.29L554.93 379.89" stroke="#fff" stroke-width="0.95" fill="none"/>
<path d="M546.39 377.80L550.44 373.35" stroke="#fff" stroke-width="1.49" stroke-linecap="round"/>
<circle cx="546.39" cy="377.80" r="1.35" fill="#fff"/>
<rect x="544.10" y="381.18" width="5.13" height="2.56" fill="#fff"/>
<circle cx="536.00" cy="387.12" r="7.02" fill="#58a02e"/>
<circle cx="536.00" cy="387.12" r="5.62" fill="none" stroke="#fff" stroke-width="0.68" opacity="0.85"/>
<path d="M537.75 383.61L533.89 387.82H536.00L534.60 390.98L538.46 386.42H536.35Z" fill="#fff" opacity="0.9"/>
<circle cx="559.5" cy="366.58" r="1.21" fill="#58a02e"/>
<path d="M556.99 364.32A3.38 3.38 0 0 1 562.01 364.32" stroke="#58a02e" stroke-width="1.28" fill="none" stroke-linecap="round"/>
<path d="M555.49 362.97A5.40 5.40 0 0 1 563.51 362.97" stroke="#58a02e" stroke-width="1.28" fill="none" stroke-linecap="round"/>
<path d="M553.98 361.61A7.43 7.43 0 0 1 565.02 361.61" stroke="#58a02e" stroke-width="1.28" fill="none" stroke-linecap="round"/>
</g>
<mask id="mkEdge" maskUnits="userSpaceOnUse" x="0" y="0" width="836" height="544"><rect width="836" height="544" fill="#fff"/><ellipse cx="462" cy="210.7" rx="285" ry="88.7" transform="rotate(0.3 462 210.7)" fill="#000"/></mask>
<g mask="url(#mkEdge)"><ellipse cx="463.4" cy="216.79999999999998" rx="285" ry="88.7" transform="rotate(0.3 463.4 216.79999999999998)" fill="url(#sEdge)" opacity="0.97"/></g>
<ellipse cx="462" cy="210.7" rx="285" ry="88.7" transform="rotate(0.3 462 210.7)" fill="url(#gEdge)" fill-opacity="0.88"/>
<g transform="translate(0 0)">
<ellipse cx="300" cy="205" rx="36" ry="10" fill="url(#gShadow)" opacity="0.8"/>
<ellipse cx="274" cy="194" rx="22" ry="7" fill="url(#gShadow)" opacity="0.7"/>
<polygon points="255.8,149.6 279,134.9 281.5,152.8 272.6,158.6" fill="#434447" />
<polygon points="255.8,149.6 272.6,158.6 272.6,196 255.8,186.6" fill="#343537" />
<polygon points="272.6,158.6 281.5,152.8 281.5,189.5 272.6,195.8" fill="#1b1c1f" />
<polygon points="257.5,157.2 269.8,163.6 269.8,165.9 257.5,159.5" fill="#8b8d90" />
<polygon points="257.5,165.1 269.8,171.5 269.8,173.8 257.5,167.4" fill="#8b8d90" />
<circle cx="259.5" cy="178.3" r="1.9" fill="#d9b340"/><circle cx="259.5" cy="178.3" r="0.9" fill="#8a6d1c"/>
<circle cx="264" cy="182.6" r="0.5" fill="#aaa"/>
<polygon points="300,193 306,196 306,205 300,202" fill="#2f3944" />
<polygon points="292.8,202.4 300.3,198.4 312.3,205 304.7,209.6" fill="#3d4957" />
<polygon points="292.8,202.4 304.7,209.6 304.7,211.2 292.8,204" fill="#2a323c" />
<polygon points="304.7,209.6 312.3,205 312.3,206.6 304.7,211.2" fill="#1f262e" />
<polygon points="279,135.1 281.2,133.8 337,163.8 335,165.1" fill="#3b424c" />
<polygon points="279,135.1 335,165.1 335,213.5 279.6,183.9" fill="#262b33" />
<polygon points="281.8,142.2 331.6,168.9 331.6,206.9 281.8,180.3" fill="#ededee" />
<polygon points="292.4,159.6 318.5,171.6 318.5,173.7 292.4,161.7" fill="#1f6fd6" />
<polygon points="313.5,165.6 321.5,169.4 321.5,171.5 313.5,167.7" fill="#1f6fd6" />
<path d="M311.8 162.4L309.4 163.6L311.8 167 M323 167.6L325.4 171.2L323 172.4" stroke="#222" stroke-width="0.9" fill="none"/>
<polygon points="302,173.2 310.3,177.1 310.3,179.2 302,175.3" fill="#d9541e" />
<polygon points="312.3,178.6 325.2,184.6 325.2,186.9 312.3,180.9" fill="#1f6fd6" />
<polygon points="304.2,183 325.2,192.9 325.2,195.2 304.2,185.3" fill="#2a2424" />
<polygon points="318.5,197 325.2,200.1 325.2,201.2 318.5,198.1" fill="#1f6fd6" />
</g>
<g transform="translate(90.5 47.4)">
<ellipse cx="300" cy="205" rx="36" ry="10" fill="url(#gShadow)" opacity="0.8"/>
<ellipse cx="274" cy="194" rx="22" ry="7" fill="url(#gShadow)" opacity="0.7"/>
<polygon points="255.8,149.6 279,134.9 281.5,152.8 272.6,158.6" fill="#434447" />
<polygon points="255.8,149.6 272.6,158.6 272.6,196 255.8,186.6" fill="#343537" />
<polygon points="272.6,158.6 281.5,152.8 281.5,189.5 272.6,195.8" fill="#1b1c1f" />
<polygon points="257.5,157.2 269.8,163.6 269.8,165.9 257.5,159.5" fill="#8b8d90" />
<polygon points="257.5,165.1 269.8,171.5 269.8,173.8 257.5,167.4" fill="#8b8d90" />
<circle cx="259.5" cy="178.3" r="1.9" fill="#d9b340"/><circle cx="259.5" cy="178.3" r="0.9" fill="#8a6d1c"/>
<circle cx="264" cy="182.6" r="0.5" fill="#aaa"/>
<polygon points="300,193 306,196 306,205 300,202" fill="#2f3944" />
<polygon points="292.8,202.4 300.3,198.4 312.3,205 304.7,209.6" fill="#3d4957" />
<polygon points="292.8,202.4 304.7,209.6 304.7,211.2 292.8,204" fill="#2a323c" />
<polygon points="304.7,209.6 312.3,205 312.3,206.6 304.7,211.2" fill="#1f262e" />
<polygon points="279,135.1 281.2,133.8 337,163.8 335,165.1" fill="#3b424c" />
<polygon points="279,135.1 335,165.1 335,213.5 279.6,183.9" fill="#262b33" />
<polygon points="281.8,142.2 331.6,168.9 331.6,206.9 281.8,180.3" fill="#ededee" />
<polygon points="292.4,159.6 318.5,171.6 318.5,173.7 292.4,161.7" fill="#1f6fd6" />
<polygon points="313.5,165.6 321.5,169.4 321.5,171.5 313.5,167.7" fill="#1f6fd6" />
<path d="M311.8 162.4L309.4 163.6L311.8 167 M323 167.6L325.4 171.2L323 172.4" stroke="#222" stroke-width="0.9" fill="none"/>
<polygon points="302,173.2 310.3,177.1 310.3,179.2 302,175.3" fill="#d9541e" />
<polygon points="312.3,178.6 325.2,184.6 325.2,186.9 312.3,180.9" fill="#1f6fd6" />
<polygon points="304.2,183 325.2,192.9 325.2,195.2 304.2,185.3" fill="#2a2424" />
<polygon points="318.5,197 325.2,200.1 325.2,201.2 318.5,198.1" fill="#1f6fd6" />
</g>
<g transform="translate(180.5 18.7)">
<ellipse cx="300" cy="205" rx="36" ry="10" fill="url(#gShadow)" opacity="0.8"/>
<ellipse cx="274" cy="194" rx="22" ry="7" fill="url(#gShadow)" opacity="0.7"/>
<polygon points="255.8,149.6 279,134.9 281.5,152.8 272.6,158.6" fill="#434447" />
<polygon points="255.8,149.6 272.6,158.6 272.6,196 255.8,186.6" fill="#343537" />
<polygon points="272.6,158.6 281.5,152.8 281.5,189.5 272.6,195.8" fill="#1b1c1f" />
<polygon points="257.5,157.2 269.8,163.6 269.8,165.9 257.5,159.5" fill="#8b8d90" />
<polygon points="257.5,165.1 269.8,171.5 269.8,173.8 257.5,167.4" fill="#8b8d90" />
<circle cx="259.5" cy="178.3" r="1.9" fill="#d9b340"/><circle cx="259.5" cy="178.3" r="0.9" fill="#8a6d1c"/>
<circle cx="264" cy="182.6" r="0.5" fill="#aaa"/>
<polygon points="300,193 306,196 306,205 300,202" fill="#2f3944" />
<polygon points="292.8,202.4 300.3,198.4 312.3,205 304.7,209.6" fill="#3d4957" />
<polygon points="292.8,202.4 304.7,209.6 304.7,211.2 292.8,204" fill="#2a323c" />
<polygon points="304.7,209.6 312.3,205 312.3,206.6 304.7,211.2" fill="#1f262e" />
<polygon points="279,135.1 281.2,133.8 337,163.8 335,165.1" fill="#3b424c" />
<polygon points="279,135.1 335,165.1 335,213.5 279.6,183.9" fill="#262b33" />
<polygon points="281.8,142.2 331.6,168.9 331.6,206.9 281.8,180.3" fill="#ededee" />
<polygon points="292.4,159.6 318.5,171.6 318.5,173.7 292.4,161.7" fill="#1f6fd6" />
<polygon points="313.5,165.6 321.5,169.4 321.5,171.5 313.5,167.7" fill="#1f6fd6" />
<path d="M311.8 162.4L309.4 163.6L311.8 167 M323 167.6L325.4 171.2L323 172.4" stroke="#222" stroke-width="0.9" fill="none"/>
<polygon points="302,173.2 310.3,177.1 310.3,179.2 302,175.3" fill="#d9541e" />
<polygon points="312.3,178.6 325.2,184.6 325.2,186.9 312.3,180.9" fill="#1f6fd6" />
<polygon points="304.2,183 325.2,192.9 325.2,195.2 304.2,185.3" fill="#2a2424" />
<polygon points="318.5,197 325.2,200.1 325.2,201.2 318.5,198.1" fill="#1f6fd6" />
</g>
<mask id="mkCloud" maskUnits="userSpaceOnUse" x="0" y="0" width="836" height="544"><rect width="836" height="544" fill="#fff"/><ellipse cx="459.5" cy="73" rx="229.3" ry="66" transform="rotate(-1.6 459.5 73)" fill="#000"/></mask>
<g mask="url(#mkCloud)"><ellipse cx="461.9" cy="78.6" rx="229.3" ry="66" transform="rotate(-1.6 461.9 78.6)" fill="url(#sCloud)" opacity="0.92"/></g>
<ellipse cx="459.5" cy="73" rx="229.3" ry="66" transform="rotate(-1.6 459.5 73)" fill="url(#gCloud)" fill-opacity="0.6"/>
<ellipse cx="425" cy="81" rx="42" ry="6" fill="url(#gShadow)" opacity="0.45"/>
<clipPath id="cpBack"><rect x="383.4" y="0" width="100" height="100"/></clipPath>
<g clip-path="url(#cpBack)">
<g transform="translate(1.2 1.6)">
<circle cx="405" cy="28.5" r="18.2" fill="#1c5fb0"/>
<circle cx="431.5" cy="36" r="15.8" fill="#1c5fb0"/>
<circle cx="450" cy="53.5" r="16.2" fill="#1c5fb0"/>
<rect x="372.8" y="36.8" width="92.4" height="32.4" rx="13.2" fill="#1c5fb0"/>
<rect x="368.8" y="22.8" width="36.4" height="40.4" rx="12.2" fill="#1c5fb0"/>
</g>
<g >
<circle cx="405" cy="28.5" r="18.0" fill="#2f86dd"/>
<circle cx="431.5" cy="36" r="15.6" fill="#2f86dd"/>
<circle cx="450" cy="53.5" r="16.0" fill="#2f86dd"/>
<rect x="373.0" y="37.0" width="92.0" height="32.0" rx="13.0" fill="#2f86dd"/>
<rect x="369.0" y="23.0" width="36.0" height="40.0" rx="12.0" fill="#2f86dd"/>
</g>
<g >
<circle cx="405" cy="28.5" r="15" fill="url(#gCloudIn)"/>
<circle cx="431.5" cy="36" r="12.6" fill="url(#gCloudIn)"/>
<circle cx="450" cy="53.5" r="13" fill="url(#gCloudIn)"/>
<rect x="376" y="40" width="86" height="26" rx="10" fill="url(#gCloudIn)"/>
<rect x="372" y="26" width="30" height="34" rx="9" fill="url(#gCloudIn)"/>
</g>
<rect x="383.4" y="27.5" width="5.2" height="43" fill="#4f99e4" opacity="0.9"/>
</g>
<g transform="translate(0.8 1.8)">
<circle cx="397.5" cy="67" r="11.4" fill="#1c5fb0"/>
<circle cx="405" cy="58.5" r="9.9" fill="#1c5fb0"/>
<circle cx="422.5" cy="55" r="13.9" fill="#1c5fb0"/>
<circle cx="442.5" cy="65.5" r="12.4" fill="#1c5fb0"/>
<rect x="386.1" y="57.1" width="68.8" height="21.3" rx="10.4" fill="#1c5fb0"/>
</g>
<g >
<circle cx="397.5" cy="67" r="11.1" fill="#2f86dd"/>
<circle cx="405" cy="58.5" r="9.6" fill="#2f86dd"/>
<circle cx="422.5" cy="55" r="13.6" fill="#2f86dd"/>
<circle cx="442.5" cy="65.5" r="12.1" fill="#2f86dd"/>
<rect x="386.4" y="57.4" width="68.2" height="20.7" rx="10.1" fill="#2f86dd"/>
</g>
<g >
<circle cx="397.5" cy="67" r="8.5" fill="url(#gCloudFr)"/>
<circle cx="405" cy="58.5" r="7" fill="url(#gCloudFr)"/>
<circle cx="422.5" cy="55" r="11" fill="url(#gCloudFr)"/>
<circle cx="442.5" cy="65.5" r="9.5" fill="url(#gCloudFr)"/>
<rect x="389" y="60" width="63" height="15.5" rx="7.5" fill="url(#gCloudFr)"/>
</g>
<ellipse cx="372" cy="86" rx="30" ry="6" fill="url(#gShadow)" opacity="0.55"/>
<polygon points="359,2.8 383.2,9.4 383.2,79.8 359,88.4" fill="url(#gSrvSide)" />
<polygon points="361.2,7.6 381.6,12.8 381.6,76.8 361.2,84" fill="#171b22" />
<path d="M361.2 30Q371 8 381.6 36V60Q372 38 361.2 70Z" fill="#27405f" opacity="0.55"/>
<path d="M361.2 84V66Q370 50 378 62Q381 70 376 79Z" fill="#22354d" opacity="0.7"/>
<rect x="329.6" y="1.8" width="29.8" height="86.6" fill="#c3c7cb"/>
<rect x="355.2" y="1.8" width="4.2" height="86.6" fill="#e3e6e9"/>
<rect x="332" y="4.2" width="23.2" height="81.6" fill="#1b2028"/>
<rect x="332" y="4.2" width="23.2" height="10" fill="#262c35"/>
<rect x="335" y="7.4" width="3" height="1.4" fill="#2fb0b0"/>
<rect x="335" y="10.6" width="3" height="1.4" fill="#2fb0b0"/>
<rect x="345" y="7.4" width="3" height="1.4" fill="#2fb0b0"/>
<rect x="345" y="10.6" width="3" height="1.4" fill="#2fb0b0"/>
<rect x="332" y="15.2" width="23.2" height="8.4" fill="#222831"/>
<rect x="340.8" y="16.6" width="7.6" height="5" fill="#3fa9e6"/>
<rect x="332" y="25" width="23.2" height="8.6" fill="#252b33"/>
<rect x="335" y="29.4" width="14" height="1.4" fill="#59606a"/>
<rect x="332" y="35.6" width="23.2" height="5" fill="#28303a"/>
<rect x="339.4" y="37.300000000000004" width="14" height="1.7" fill="#2f9f9c"/>
<rect x="334" y="37.300000000000004" width="2" height="1.7" fill="#8d9094"/>
<rect x="332" y="41.6" width="23.2" height="5" fill="#28303a"/>
<rect x="339.4" y="43.300000000000004" width="14" height="1.7" fill="#2f9f9c"/>
<rect x="334" y="43.300000000000004" width="2" height="1.7" fill="#8d9094"/>
<rect x="332" y="47.4" width="23.2" height="5" fill="#28303a"/>
<rect x="339.4" y="49.1" width="14" height="1.7" fill="#2f9f9c"/>
<rect x="334" y="49.1" width="2" height="1.7" fill="#8d9094"/>
<rect x="332" y="53" width="23.2" height="5" fill="#28303a"/>
<rect x="339.4" y="54.7" width="14" height="1.7" fill="#2f9f9c"/>
<rect x="334" y="54.7" width="2" height="1.7" fill="#8d9094"/>
<rect x="332" y="58.8" width="23.2" height="5" fill="#28303a"/>
<rect x="339.4" y="60.5" width="14" height="1.7" fill="#2f9f9c"/>
<rect x="334" y="60.5" width="2" height="1.7" fill="#8d9094"/>
<rect x="332" y="64.8" width="23.2" height="5" fill="#28303a"/>
<rect x="339.4" y="66.5" width="14" height="1.7" fill="#2f9f9c"/>
<rect x="334" y="66.5" width="2" height="1.7" fill="#8d9094"/>
<rect x="332" y="71.6" width="23.2" height="13" fill="#30353c"/>
<path d="M333 74.2H354.4M333 76.8H354.4M333 79.4H354.4M333 82H354.4" stroke="#13161a" stroke-width="1.1"/>
<rect x="329.6" y="85.6" width="29.8" height="1.4" fill="#e3e6e9"/>
<g stroke="#b3281f" stroke-width="1.5" fill="none" stroke-dasharray="9 2.6 1.8 2.6">
<path d="M350 95L319.4 144.5"/><path d="M391.5 99L395 188"/><path d="M439 94L474 150"/>
</g>
<g stroke="#4873bf" stroke-width="1.3" fill="none" stroke-dasharray="4.2 3.3">
<path d="M272 209L205 322"/><path d="M288 213L247 420"/><path d="M309 220L330 410"/>
<path d="M360 257L326 410"/><path d="M383 263L393 470"/><path d="M406 258L441.5 361"/>
<path d="M461 243L465 362"/><path d="M480 241L510 430"/><path d="M499 236L553 335"/>
</g>
<circle cx="28.6" cy="11.3" r="7.6" fill="none" stroke="#000" stroke-width="1.1"/>
<text x="28.6" y="16.200000000000003" font-size="13.8" text-anchor="middle" fill="#000">3</text>
<text x="43" y="16" font-size="14.8" font-weight="bold" fill="#000" text-anchor="start" textLength="260" lengthAdjust="spacingAndGlyphs" >Semi-Asynchronous Model Aggregation</text>
<circle cx="478" cy="9" r="7.6" fill="none" stroke="#000" stroke-width="1.1"/>
<text x="478" y="13.9" font-size="13.8" text-anchor="middle" fill="#000">1</text>
<text x="490" y="14.2" font-size="14.8" font-weight="bold" fill="#000" text-anchor="start" textLength="225" lengthAdjust="spacingAndGlyphs" >Efficiency-Optimal Model Splitting</text>
<circle cx="530.3" cy="179.9" r="7.6" fill="none" stroke="#000" stroke-width="1.1"/>
<text x="530.3" y="184.8" font-size="13.8" text-anchor="middle" fill="#000">2</text>
<text x="542" y="184.5" font-size="14.8" font-weight="bold" fill="#000" text-anchor="start" textLength="190" lengthAdjust="spacingAndGlyphs" >Collaborative Model Training</text>
<text x="257" y="68.8" font-size="14.3" font-weight="bold" fill="#000" text-anchor="start" textLength="37" lengthAdjust="spacingAndGlyphs" >Cloud</text>
<text x="208.6" y="198.8" font-size="14.3" font-weight="bold" fill="#000" text-anchor="start" textLength="30" lengthAdjust="spacingAndGlyphs" >Edge</text>
<text x="159.4" y="383.5" font-size="14.3" font-weight="bold" fill="#000" text-anchor="start" textLength="24" lengthAdjust="spacingAndGlyphs" >End</text>
<g stroke="#000" stroke-width="1.3" fill="#000">
<path d="M107 37.2H150M128.5 75V40" fill="none"/>
<path d="M128.5 37.5L126 43H131Z" stroke="none"/>
<path d="M107 204.2H150M128.5 179V236" fill="none"/>
<path d="M128.5 203.5L126 198H131Z M128.5 204.5L126 210H131Z" stroke="none"/>
<path d="M104 352.2H146M128.5 324V349" fill="none"/>
<path d="M128.5 351.5L126 346H131Z" stroke="none"/>
</g>
<path d="M88.75 100L103.75 92.5M88.75 100L103.75 108M88.75 100L103.75 123M88.75 115L103.75 92.5M88.75 115L103.75 108M88.75 115L103.75 123M103.75 92.5L120.5 83M103.75 92.5L120.5 99.5M103.75 92.5L120.5 115.75M103.75 92.5L120.5 131M103.75 108L120.5 83M103.75 108L120.5 99.5M103.75 108L120.5 115.75M103.75 108L120.5 131M103.75 123L120.5 83M103.75 123L120.5 99.5M103.75 123L120.5 115.75M103.75 123L120.5 131M120.5 83L135 92M120.5 83L135 108M120.5 83L130 128.75M120.5 99.5L135 92M120.5 99.5L135 108M120.5 99.5L130 128.75M120.5 115.75L135 92M120.5 115.75L135 108M120.5 115.75L130 128.75M120.5 131L135 92M120.5 131L135 108M120.5 131L130 128.75M135 92L149.5 92M135 92L149.5 108M135 92L149.5 123M135 108L149.5 92M135 108L149.5 108M135 108L149.5 123M130 128.75L149.5 92M130 128.75L149.5 108M130 128.75L149.5 123M149.5 92L164 100M149.5 92L164 115.5M149.5 108L164 100M149.5 108L164 115.5M149.5 123L164 100M149.5 123L164 115.5M164 100L177 108M164 115.5L177 108" stroke="#76767c" stroke-width="0.5" fill="none"/>
<circle cx="88.75" cy="100" r="3.5" fill="#4285c4"/>
<circle cx="88.75" cy="115" r="3.5" fill="#4285c4"/>
<circle cx="103.75" cy="92.5" r="3.5" fill="#eeb12f"/>
<path d="M103.75 89.0A3.5 3.5 0 0 0 103.75 96.0Z" fill="#4285c4"/>
<circle cx="103.75" cy="108" r="3.5" fill="#eeb12f"/>
<path d="M103.75 104.5A3.5 3.5 0 0 0 103.75 111.5Z" fill="#4285c4"/>
<circle cx="103.75" cy="123" r="3.5" fill="#eeb12f"/>
<path d="M103.75 119.5A3.5 3.5 0 0 0 103.75 126.5Z" fill="#4285c4"/>
<circle cx="120.5" cy="83" r="3.5" fill="#eeb12f"/>
<circle cx="120.5" cy="99.5" r="3.5" fill="#eeb12f"/>
<circle cx="120.5" cy="115.75" r="3.5" fill="#eeb12f"/>
<circle cx="120.5" cy="131" r="3.5" fill="#eeb12f"/>
<circle cx="135" cy="92" r="3.5" fill="#eeb12f"/>
<circle cx="135" cy="108" r="3.5" fill="#eeb12f"/>
<circle cx="130" cy="128.75" r="3.5" fill="#eeb12f"/>
<circle cx="149.5" cy="92" r="3.5" fill="#eeb12f"/>
<circle cx="149.5" cy="108" r="3.5" fill="#eeb12f"/>
<circle cx="149.5" cy="123" r="3.5" fill="#eeb12f"/>
<circle cx="164" cy="100" r="3.5" fill="#8fd14f"/>
<path d="M164 96.5A3.5 3.5 0 0 0 164 103.5Z" fill="#eeb12f"/>
<circle cx="164" cy="115.5" r="3.5" fill="#8fd14f"/>
<path d="M164 112.0A3.5 3.5 0 0 0 164 119.0Z" fill="#eeb12f"/>
<circle cx="177" cy="108" r="3.5" fill="#8fd14f"/>
<path d="M186.4 106.8L191.4 111.8M191.4 106.8L186.4 111.8" stroke="#111" stroke-width="1.1"/>
<text x="194.6" y="112.6" font-size="13.7" font-weight="normal" fill="#111" text-anchor="start" textLength="11.2" lengthAdjust="spacingAndGlyphs" >m</text>
<text x="90.0" y="153" font-size="12.2" font-weight="normal" fill="#111" text-anchor="start" textLength="78" lengthAdjust="spacingAndGlyphs" >Asynchronous</text>
<text x="95.5" y="169" font-size="12.2" font-weight="normal" fill="#111" text-anchor="start" textLength="67" lengthAdjust="spacingAndGlyphs" >Aggregation</text>
<path d="M108 256L125 247M108 256L125 265M108 256L125 283M108 272.5L125 247M108 272.5L125 265M108 272.5L125 283" stroke="#76767c" stroke-width="0.5" fill="none"/>
<circle cx="108" cy="256" r="3.9" fill="#4285c4"/>
<circle cx="108" cy="272.5" r="3.9" fill="#4285c4"/>
<circle cx="125" cy="247" r="3.9" fill="#4285c4"/>
<circle cx="125" cy="265" r="3.9" fill="#4285c4"/>
<circle cx="125" cy="283" r="3.9" fill="#4285c4"/>
<path d="M138.4 254.6L153 264.1M138.4 272.6L153 264.1" stroke="#76767c" stroke-width="0.5" fill="none"/>
<circle cx="138.4" cy="254.6" r="3.9" fill="#8fd14f"/>
<circle cx="138.4" cy="272.6" r="3.9" fill="#8fd14f"/>
<circle cx="153" cy="264.1" r="3.9" fill="#8fd14f"/>
<path d="M169.8 261.6L174.8 266.6M174.8 261.6L169.8 266.6" stroke="#111" stroke-width="1.1"/>
<text x="177.7" y="267.4" font-size="13.7" font-weight="normal" fill="#111" text-anchor="start" textLength="6.8" lengthAdjust="spacingAndGlyphs" >n</text>
<text x="95.5" y="300.5" font-size="12.2" font-weight="normal" fill="#111" text-anchor="start" textLength="71" lengthAdjust="spacingAndGlyphs" >Synchronous</text>
<text x="97.5" y="316.5" font-size="12.2" font-weight="normal" fill="#111" text-anchor="start" textLength="67" lengthAdjust="spacingAndGlyphs" >Aggregation</text>
<path d="M556.75 42L570 34.5M556.75 42L570 50M556.75 42L570 65.75M556.75 57.5L570 34.5M556.75 57.5L570 50M556.75 57.5L570 65.75M570 34.5L584.75 25.5M570 34.5L584.75 41.25M570 34.5L584.75 57.5M570 34.5L584.75 73.25M570 50L584.75 25.5M570 50L584.75 41.25M570 50L584.75 57.5M570 50L584.75 73.25M570 65.75L584.75 25.5M570 65.75L584.75 41.25M570 65.75L584.75 57.5M570 65.75L584.75 73.25M584.75 25.5L597.5 34M584.75 25.5L597.5 50M584.75 25.5L593 70.75M584.75 41.25L597.5 34M584.75 41.25L597.5 50M584.75 41.25L593 70.75M584.75 57.5L597.5 34M584.75 57.5L597.5 50M584.75 57.5L593 70.75M584.75 73.25L597.5 34M584.75 73.25L597.5 50M584.75 73.25L593 70.75M597.5 34L610 34M597.5 34L610 50M597.5 34L610 65.5M597.5 50L610 34M597.5 50L610 50M597.5 50L610 65.5M593 70.75L610 34M593 70.75L610 50M593 70.75L610 65.5M610 34L623.5 41.25M610 34L623.5 57.5M610 50L623.5 41.25M610 50L623.5 57.5M610 65.5L623.5 41.25M610 65.5L623.5 57.5M623.5 41.25L634.5 50M623.5 57.5L634.5 50" stroke="#76767c" stroke-width="0.5" fill="none"/>
<circle cx="556.75" cy="42" r="3.2" fill="#4285c4"/>
<circle cx="556.75" cy="57.5" r="3.2" fill="#4285c4"/>
<circle cx="570" cy="34.5" r="3.2" fill="#eeb12f"/>
<path d="M570 31.3A3.2 3.2 0 0 0 570 37.7Z" fill="#4285c4"/>
<circle cx="570" cy="50" r="3.2" fill="#eeb12f"/>
<path d="M570 46.8A3.2 3.2 0 0 0 570 53.2Z" fill="#4285c4"/>
<circle cx="570" cy="65.75" r="3.2" fill="#eeb12f"/>
<path d="M570 62.55A3.2 3.2 0 0 0 570 68.95Z" fill="#4285c4"/>
<circle cx="584.75" cy="25.5" r="3.2" fill="#eeb12f"/>
<circle cx="584.75" cy="41.25" r="3.2" fill="#eeb12f"/>
<circle cx="584.75" cy="57.5" r="3.2" fill="#eeb12f"/>
<circle cx="584.75" cy="73.25" r="3.2" fill="#eeb12f"/>
<circle cx="597.5" cy="34" r="3.2" fill="#eeb12f"/>
<circle cx="597.5" cy="50" r="3.2" fill="#eeb12f"/>
<circle cx="593" cy="70.75" r="3.2" fill="#eeb12f"/>
<circle cx="610" cy="34" r="3.2" fill="#eeb12f"/>
<circle cx="610" cy="50" r="3.2" fill="#eeb12f"/>
<circle cx="610" cy="65.5" r="3.2" fill="#eeb12f"/>
<circle cx="623.5" cy="41.25" r="3.2" fill="#8fd14f"/>
<path d="M623.5 38.05A3.2 3.2 0 0 0 623.5 44.45Z" fill="#eeb12f"/>
<circle cx="623.5" cy="57.5" r="3.2" fill="#8fd14f"/>
<path d="M623.5 54.3A3.2 3.2 0 0 0 623.5 60.7Z" fill="#eeb12f"/>
<circle cx="634.5" cy="50" r="3.2" fill="#8fd14f"/>
<path d="M570 22V80M623.5 22V80" stroke="#222" stroke-width="0.9" stroke-dasharray="3 2" fill="none"/>
<text x="496.0" y="45.5" font-size="12.2" font-weight="normal" fill="#111" text-anchor="start" textLength="42" lengthAdjust="spacingAndGlyphs" >Feature</text>
<text x="492.0" y="62" font-size="12.2" font-weight="normal" fill="#111" text-anchor="start" textLength="50" lengthAdjust="spacingAndGlyphs" >Extractor</text>
<text x="641" y="51" font-size="12.2" font-weight="normal" fill="#111" text-anchor="start" textLength="54" lengthAdjust="spacingAndGlyphs" >Regressor</text>
<text x="536.0" y="94" font-size="12.2" font-weight="normal" fill="#111" text-anchor="start" textLength="99" lengthAdjust="spacingAndGlyphs" >Feature Processor</text>
<path d="M705 34H826V381.25H794" stroke="#70ad47" stroke-width="1.3" fill="none"/>
<path d="M788 381.25L795 378V384.5Z" fill="#70ad47"/>
<path d="M705 67.5H774.5V224H761" stroke="#f0c030" stroke-width="1.3" fill="none"/>
<path d="M755 224L762 220.75V227.25Z" fill="#f0c030"/>
<text x="730.0" y="99.8" font-size="12.2" font-weight="normal" fill="#111" text-anchor="start" textLength="26" lengthAdjust="spacingAndGlyphs" >Edge</text>
<text x="725.5" y="115.8" font-size="12.2" font-weight="normal" fill="#111" text-anchor="start" textLength="35" lengthAdjust="spacingAndGlyphs" >Model</text>
<path d="M715.75 129L729.5 121.75M715.75 129L729.5 135M715.75 129L729.5 148.5M715.75 129L729.5 162M715.75 142.5L729.5 121.75M715.75 142.5L729.5 135M715.75 142.5L729.5 148.5M715.75 142.5L729.5 162M715.75 156L729.5 121.75M715.75 156L729.5 135M715.75 156L729.5 148.5M715.75 156L729.5 162M729.5 121.75L741.5 129M729.5 121.75L741.5 142M729.5 121.75L741.5 156M729.5 135L741.5 129M729.5 135L741.5 142M729.5 135L741.5 156M729.5 148.5L741.5 129M729.5 148.5L741.5 142M729.5 148.5L741.5 156M729.5 162L741.5 129M729.5 162L741.5 142M729.5 162L741.5 156M741.5 129L753 129M741.5 129L753 142M741.5 129L753 156M741.5 142L753 129M741.5 142L753 142M741.5 142L753 156M741.5 156L753 129M741.5 156L753 142M741.5 156L753 156M753 129L765.75 135M753 129L765.75 148.5M753 142L765.75 135M753 142L765.75 148.5M753 156L765.75 135M753 156L765.75 148.5" stroke="#76767c" stroke-width="0.5" fill="none"/>
<circle cx="715.75" cy="129" r="3" fill="#eeb12f"/>
<circle cx="715.75" cy="142.5" r="3" fill="#eeb12f"/>
<circle cx="715.75" cy="156" r="3" fill="#eeb12f"/>
<circle cx="729.5" cy="121.75" r="3" fill="#eeb12f"/>
<circle cx="729.5" cy="135" r="3" fill="#eeb12f"/>
<circle cx="729.5" cy="148.5" r="3" fill="#eeb12f"/>
<circle cx="729.5" cy="162" r="3" fill="#eeb12f"/>
<circle cx="741.5" cy="129" r="3" fill="#eeb12f"/>
<circle cx="741.5" cy="142" r="3" fill="#eeb12f"/>
<circle cx="741.5" cy="156" r="3" fill="#eeb12f"/>
<circle cx="753" cy="129" r="3" fill="#eeb12f"/>
<circle cx="753" cy="142" r="3" fill="#eeb12f"/>
<circle cx="753" cy="156" r="3" fill="#eeb12f"/>
<circle cx="765.75" cy="135" r="3" fill="#eeb12f"/>
<circle cx="765.75" cy="148.5" r="3" fill="#eeb12f"/>
<text x="785.5" y="305" font-size="12.2" font-weight="normal" fill="#111" text-anchor="start" textLength="21" lengthAdjust="spacingAndGlyphs" >End</text>
<text x="778.5" y="321" font-size="12.2" font-weight="normal" fill="#111" text-anchor="start" textLength="35" lengthAdjust="spacingAndGlyphs" >Model</text>
<path d="M780 337L792 330.75M780 337L792 344M780 337L792 357M780 350L792 330.75M780 350L792 344M780 350L792 357" stroke="#76767c" stroke-width="0.5" fill="none"/>
<circle cx="780" cy="337" r="3" fill="#4285c4"/>
<circle cx="780" cy="350" r="3" fill="#4285c4"/>
<circle cx="792" cy="330.75" r="3" fill="#4285c4"/>
<circle cx="792" cy="344" r="3" fill="#4285c4"/>
<circle cx="792" cy="357" r="3" fill="#4285c4"/>
<path d="M802 337L812 343.25M802 349.5L812 343.25" stroke="#76767c" stroke-width="0.5" fill="none"/>
<circle cx="802" cy="337" r="3" fill="#8fd14f"/>
<circle cx="802" cy="349.5" r="3" fill="#8fd14f"/>
<circle cx="812" cy="343.25" r="3" fill="#8fd14f"/>
<path d="M606.75 201.5L623.5 194M606.75 201.5L623.5 208.5M606.75 201.5L623.5 222.25M606.75 201.5L623.5 236.5M606.75 215.5L623.5 194M606.75 215.5L623.5 208.5M606.75 215.5L623.5 222.25M606.75 215.5L623.5 236.5M606.75 229.75L623.5 194M606.75 229.75L623.5 208.5M606.75 229.75L623.5 222.25M606.75 229.75L623.5 236.5M623.5 194L639 201M623.5 194L639 215.5M623.5 194L639 229.5M623.5 208.5L639 201M623.5 208.5L639 215.5M623.5 208.5L639 229.5M623.5 222.25L639 201M623.5 222.25L639 215.5M623.5 222.25L639 229.5M623.5 236.5L639 201M623.5 236.5L639 215.5M623.5 236.5L639 229.5M639 201L654 201M639 201L654 215.5M639 201L654 229.5M639 215.5L654 201M639 215.5L654 215.5M639 215.5L654 229.5M639 229.5L654 201M639 229.5L654 215.5M639 229.5L654 229.5M654 201L669.5 208.5M654 201L669.5 222.25M654 215.5L669.5 208.5M654 215.5L669.5 222.25M654 229.5L669.5 208.5M654 229.5L669.5 222.25" stroke="#76767c" stroke-width="0.5" fill="none"/>
<circle cx="606.75" cy="201.5" r="3.8" fill="#eeb12f"/>
<circle cx="606.75" cy="215.5" r="3.8" fill="#eeb12f"/>
<circle cx="606.75" cy="229.75" r="3.8" fill="#eeb12f"/>
<circle cx="623.5" cy="194" r="3.8" fill="#eeb12f"/>
<circle cx="623.5" cy="208.5" r="3.8" fill="#eeb12f"/>
<circle cx="623.5" cy="222.25" r="3.8" fill="#eeb12f"/>
<circle cx="623.5" cy="236.5" r="3.8" fill="#eeb12f"/>
<circle cx="639" cy="201" r="3.8" fill="#eeb12f"/>
<circle cx="639" cy="215.5" r="3.8" fill="#eeb12f"/>
<circle cx="639" cy="229.5" r="3.8" fill="#eeb12f"/>
<circle cx="654" cy="201" r="3.8" fill="#eeb12f"/>
<circle cx="654" cy="215.5" r="3.8" fill="#eeb12f"/>
<circle cx="654" cy="229.5" r="3.8" fill="#eeb12f"/>
<circle cx="669.5" cy="208.5" r="3.8" fill="#eeb12f"/>
<circle cx="669.5" cy="222.25" r="3.8" fill="#eeb12f"/>
<g stroke="#4472c4" stroke-width="1.1" fill="none">
<path d="M587 318V272M587 246V217H593"/>
<path d="M638 241V247M638 272V300"/>
<path d="M587.5 387V373"/>
</g>
<path d="M598 217L592 214V220Z M638 305.5L635 299H641Z M587.5 368L584.5 374.5H590.5Z" fill="#4472c4"/>
<text x="572.0" y="264.5" font-size="12.2" font-weight="normal" fill="#111" text-anchor="start" textLength="80" lengthAdjust="spacingAndGlyphs" >Smashed Data</text>
<path d="M580 337.5L596 329M580 337.5L596 345.75M580 337.5L596 362.5M580 353.25L596 329M580 353.25L596 345.75M580 353.25L596 362.5" stroke="#76767c" stroke-width="0.5" fill="none"/>
<circle cx="580" cy="337.5" r="3.5" fill="#4285c4"/>
<circle cx="580" cy="353.25" r="3.5" fill="#4285c4"/>
<circle cx="596" cy="329" r="3.5" fill="#4285c4"/>
<circle cx="596" cy="345.75" r="3.5" fill="#4285c4"/>
<circle cx="596" cy="362.5" r="3.5" fill="#4285c4"/>
<path d="M606 358.75H621" stroke="#ed7d31" stroke-width="1.1" fill="none"/>
<path d="M626.5 358.75L620 355.75V361.75Z" fill="#ed7d31"/>
<g stroke="#3b64a8" stroke-width="1.1" fill="none">
<path d="M575 398V426A14.3 5.3 0 0 0 603.6 426V398"/>
<ellipse cx="589.3" cy="398" rx="14.3" ry="5.3"/>
<path d="M575 407.3A14.3 5.3 0 0 0 603.6 407.3M575 416.6A14.3 5.3 0 0 0 603.6 416.6"/>
</g>
<g fill="#3b64a8"><circle cx="598.6" cy="407" r="0.8"/><circle cx="598.6" cy="416.3" r="0.8"/><circle cx="598.6" cy="425.6" r="0.8"/></g>
<text x="563.5" y="450" font-size="12.2" font-weight="normal" fill="#111" text-anchor="start" textLength="57" lengthAdjust="spacingAndGlyphs" >Local Data</text>
<path d="M634.5 317.5L646.5 325M634.5 332L646.5 325" stroke="#76767c" stroke-width="0.5" fill="none"/>
<circle cx="634.5" cy="317.5" r="3" fill="#8fd14f"/>
<circle cx="634.5" cy="332" r="3" fill="#8fd14f"/>
<circle cx="646.5" cy="325" r="3" fill="#8fd14f"/>
<path d="M634.5 351.5L646.5 358.75M634.5 365.75L646.5 358.75" stroke="#76767c" stroke-width="0.5" fill="none"/>
<circle cx="634.5" cy="351.5" r="3" fill="#c8601a"/>
<circle cx="634.5" cy="365.75" r="3" fill="#c8601a"/>
<circle cx="646.5" cy="358.75" r="3" fill="#c8601a"/>
<path d="M652 325H665.75V344" stroke="#4472c4" stroke-width="1.1" fill="none"/>
<path d="M652 358.75H665.75V344H671" stroke="#ed7d31" stroke-width="1.1" fill="none"/>
<path d="M677 344L670.5 341V347Z" fill="#ed7d31"/>
<text x="622.0" y="384.4" font-size="12.2" font-weight="normal" fill="#111" text-anchor="start" textLength="46" lengthAdjust="spacingAndGlyphs" >Auxiliary</text>
<text x="628.0" y="399.8" font-size="12.2" font-weight="normal" fill="#111" text-anchor="start" textLength="34" lengthAdjust="spacingAndGlyphs" >model</text>
<rect x="678" y="325.75" width="83.5" height="35" fill="#bdd7ee"/>
<text x="689.5" y="340.2" font-size="12.2" font-weight="normal" fill="#111" text-anchor="start" textLength="61" lengthAdjust="spacingAndGlyphs" >Knowledge</text>
<text x="691.0" y="356.2" font-size="12.2" font-weight="normal" fill="#111" text-anchor="start" textLength="58" lengthAdjust="spacingAndGlyphs" >Distillation</text>
<rect x="682" y="369.4" width="76" height="58.2" fill="#eaedf7" stroke="#aab0bd" stroke-width="0.6" stroke-dasharray="1 1"/>
<text x="700.0" y="386" font-size="12.2" font-weight="normal" fill="#111" text-anchor="start" textLength="40" lengthAdjust="spacingAndGlyphs" >Parallel</text>
<text x="687.0" y="402.2" font-size="12.2" font-weight="normal" fill="#111" text-anchor="start" textLength="66" lengthAdjust="spacingAndGlyphs" >Propagation</text>
<path d="M690.75 415.5H706" stroke="#4472c4" stroke-width="1.1"/><path d="M711 415.5L705 412.7V418.3Z" fill="#4472c4"/>
<path d="M728 415.5H744" stroke="#ed7d31" stroke-width="1.1"/><path d="M749 415.5L743 412.7V418.3Z" fill="#ed7d31"/>
<rect x="65" y="503" width="223" height="29.5" fill="#e7e6e6"/>
<rect x="345" y="503" width="205" height="29.5" fill="#e7e6e6"/>
<rect x="623.5" y="503" width="207.5" height="29.5" fill="#e7e6e6"/>
<text x="76" y="524" font-size="17" font-weight="bold" fill="#2f5597" text-anchor="start" textLength="200" lengthAdjust="spacingAndGlyphs" >Data Privacy Enhancement</text>
<text x="369" y="524" font-size="17" font-weight="bold" fill="#548235" text-anchor="start" textLength="158" lengthAdjust="spacingAndGlyphs" >High Model Accuracy</text>
<text x="640" y="524" font-size="17" font-weight="bold" fill="#1f9a78" text-anchor="start" textLength="173" lengthAdjust="spacingAndGlyphs" >High Training Efficiency</text>
<g stroke="#2f5597" stroke-width="1.3" fill="none">
<path d="M19.4 504V535A16 4.4 0 0 0 51.4 535V504"/>
<ellipse cx="35.4" cy="504" rx="16" ry="4.5" fill="#fff"/>
<path d="M19.4 514.5A16 4.4 0 0 0 51.4 514.5M19.4 525A16 4.4 0 0 0 51.4 525"/>
</g>
<g fill="#2f5597"><circle cx="46.5" cy="513" r="0.9"/><circle cx="46.5" cy="523.3" r="0.9"/><circle cx="46.5" cy="533.7" r="0.9"/></g>
<rect x="4" y="523.8" width="24" height="16.4" fill="#fff"/>
<path d="M10.1 526V520A6.25 6.25 0 0 1 22.6 520V526" stroke="#fff" stroke-width="3.6" fill="none"/>
<path d="M10.1 526V520A6.25 6.25 0 0 1 22.6 520V526" stroke="#2f5597" stroke-width="2.4" fill="none"/>
<rect x="5" y="524.8" width="22" height="14.2" fill="#2f5597"/>
<circle cx="15.9" cy="531" r="2.4" fill="#fff"/><path d="M14.8 531.5H17L17.3 536.3H14.5Z" fill="#fff"/>
<g stroke="#4e8a2c" fill="none" stroke-linecap="round">
<circle cx="317.3" cy="514.3" r="15.3" stroke-width="3.2"/>
<path d="M327.5 525.5L331 529" stroke-width="2.4"/>
<path d="M332.4 529.6L340.4 536.8" stroke-width="6.2"/>
<path d="M305.9 513.8H310.4L312.6 506.9L316 522.3L319.8 510.4L322.6 517.8L324.8 514.3H328.7" stroke-width="1.8" stroke-linejoin="round"/>
</g>
<rect x="574.9" y="503.4" width="30.7" height="30.3" rx="1.8" fill="#1f9f80"/>
<rect x="580.6" y="509.4" width="19.6" height="19.1" fill="#fff"/>
<rect x="583.1" y="511.8" width="14.6" height="14.2" fill="#1f9f80"/>
<rect x="577.6999999999999" y="497.1" width="2.2" height="3.8" fill="#1f9f80"/>
<rect x="577.6999999999999" y="536.5" width="2.2" height="3.8" fill="#1f9f80"/>
<rect x="582.4" y="497.1" width="2.2" height="3.8" fill="#1f9f80"/>
<rect x="582.4" y="536.5" width="2.2" height="3.8" fill="#1f9f80"/>
<rect x="587.0" y="497.1" width="2.2" height="3.8" fill="#1f9f80"/>
<rect x="587.0" y="536.5" width="2.2" height="3.8" fill="#1f9f80"/>
<rect x="591.4" y="497.1" width="2.2" height="3.8" fill="#1f9f80"/>
<rect x="591.4" y="536.5" width="2.2" height="3.8" fill="#1f9f80"/>
<rect x="596.0" y="497.1" width="2.2" height="3.8" fill="#1f9f80"/>
<rect x="596.0" y="536.5" width="2.2" height="3.8" fill="#1f9f80"/>
<rect x="600.6" y="497.1" width="2.2" height="3.8" fill="#1f9f80"/>
<rect x="600.6" y="536.5" width="2.2" height="3.8" fill="#1f9f80"/>
<rect x="568.4" y="506.29999999999995" width="4.5" height="2.2" fill="#1f9f80"/>
<rect x="607.8" y="506.29999999999995" width="4.4" height="2.2" fill="#1f9f80"/>
<rect x="568.4" y="510.7" width="4.5" height="2.2" fill="#1f9f80"/>
<rect x="607.8" y="510.7" width="4.4" height="2.2" fill="#1f9f80"/>
<rect x="568.4" y="515.4" width="4.5" height="2.2" fill="#1f9f80"/>
<rect x="607.8" y="515.4" width="4.4" height="2.2" fill="#1f9f80"/>
<rect x="568.4" y="520.0" width="4.5" height="2.2" fill="#1f9f80"/>
<rect x="607.8" y="520.0" width="4.4" height="2.2" fill="#1f9f80"/>
<rect x="568.4" y="524.5" width="4.5" height="2.2" fill="#1f9f80"/>
<rect x="607.8" y="524.5" width="4.4" height="2.2" fill="#1f9f80"/>
<rect x="568.4" y="528.9" width="4.5" height="2.2" fill="#1f9f80"/>
<rect x="607.8" y="528.9" width="4.4" height="2.2" fill="#1f9f80"/>
</svg></body></html>
